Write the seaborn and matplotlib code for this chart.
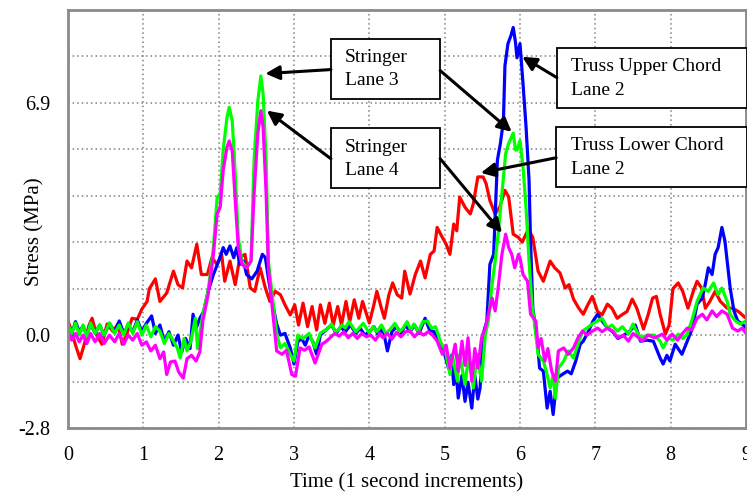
import numpy as np
import pandas as pd
import matplotlib
matplotlib.use("Agg")
import matplotlib.pyplot as plt
import seaborn as sns
from matplotlib.patches import Rectangle

# ---- Stress histories (time in s, stress in MPa) ----
lower_t = [0.00, 0.05, 0.10, 0.16, 0.22, 0.28, 0.32, 0.38, 0.45, 0.52, 0.60, 0.66, 0.72, 0.78, 0.85,
           0.92, 0.98, 1.05, 1.08, 1.16, 1.22, 1.31, 1.40, 1.46, 1.52, 1.58, 1.64, 1.71, 1.77, 1.85,
           1.91, 1.98, 2.04, 2.08, 2.15, 2.22, 2.28, 2.35, 2.42, 2.48, 2.55, 2.62, 2.68, 2.75, 2.82,
           2.88, 2.95, 3.01, 3.06, 3.12, 3.18, 3.24, 3.30, 3.35, 3.41, 3.47, 3.52, 3.58, 3.63, 3.69,
           3.74, 3.80, 3.86, 3.91, 4.00, 4.06, 4.10, 4.16, 4.20, 4.26, 4.31, 4.37, 4.43, 4.47, 4.54,
           4.61, 4.68, 4.74, 4.81, 4.86, 4.90, 4.97, 5.02, 5.07, 5.12, 5.16, 5.20, 5.27, 5.34, 5.38,
           5.44, 5.51, 5.55, 5.60, 5.67, 5.73, 5.80, 5.85, 5.91, 5.98, 6.03, 6.11, 6.17, 6.24, 6.31,
           6.40, 6.46, 6.53, 6.60, 6.65, 6.71, 6.78, 6.84, 6.90, 6.96, 7.03, 7.09, 7.16, 7.22, 7.29,
           7.35, 7.42, 7.49, 7.55, 7.64, 7.70, 7.76, 7.81, 7.86, 7.93, 7.98, 8.03, 8.10, 8.16, 8.23,
           8.30, 8.35, 8.41, 8.46, 8.52, 8.59, 8.66, 8.75, 8.82, 8.90, 9.00]
lower_v = [0.42, 0.10, -0.30, -0.70, -0.24, 0.30, 0.50, 0.00, -0.27, 0.33, 0.10, 0.33, -0.27, 0.03, 0.50,
           0.47, 0.77, 1.00, 1.38, 1.67, 1.00, 1.25, 1.90, 1.50, 1.40, 2.20, 2.00, 2.70, 1.80, 1.80,
           2.30, 2.10, 2.40, 1.60, 2.20, 1.50, 2.30, 2.40, 1.40, 1.30, 2.00, 1.40, 1.00, 1.30, 1.20,
           0.90, 0.60, 0.90, 0.30, 0.95, 0.25, 0.85, 0.15, 0.90, 0.35, 0.95, 0.30, 0.85, 0.30, 1.00,
           0.40, 1.05, 0.50, 1.00, 0.36, 0.90, 1.30, 0.80, 0.50, 1.20, 1.55, 1.20, 1.10, 1.90, 1.22,
           1.80, 2.20, 1.70, 2.40, 2.50, 3.20, 2.90, 2.70, 2.40, 3.30, 3.10, 4.10, 3.80, 3.60, 3.90,
           4.70, 4.70, 4.50, 4.00, 3.60, 3.80, 4.30, 4.10, 3.00, 2.90, 2.76, 3.15, 2.90, 1.90, 1.60,
           2.20, 2.00, 1.85, 1.40, 1.50, 1.07, 0.80, 0.62, 0.90, 1.15, 0.70, 0.60, 0.92, 0.80, 0.50,
           0.60, 0.70, 1.07, 0.80, 0.18, 0.60, 1.10, 1.15, 0.62, 0.03, 0.30, 1.38, 1.55, 1.30, 0.80,
           1.30, 1.60, 1.40, 0.80, 1.00, 1.30, 1.00, 0.80, 0.80, 0.70, 0.50]

upper_t = [0.00, 0.05, 0.10, 0.15, 0.20, 0.25, 0.30, 0.36, 0.42, 0.48, 0.55, 0.62, 0.68, 0.74, 0.80,
           0.86, 0.92, 0.98, 1.04, 1.11, 1.16, 1.22, 1.28, 1.34, 1.40, 1.46, 1.51, 1.56, 1.62, 1.66,
           1.70, 1.75, 1.80, 1.86, 1.93, 2.00, 2.06, 2.10, 2.15, 2.20, 2.24, 2.28, 2.33, 2.37, 2.44,
           2.51, 2.58, 2.62, 2.66, 2.71, 2.77, 2.82, 2.88, 2.95, 3.00, 3.05, 3.10, 3.15, 3.20, 3.25,
           3.30, 3.35, 3.42, 3.50, 3.56, 3.62, 3.68, 3.75, 3.82, 3.88, 3.94, 4.00, 4.06, 4.12, 4.18,
           4.24, 4.30, 4.36, 4.42, 4.48, 4.54, 4.60, 4.66, 4.74, 4.80, 4.86, 4.92, 5.00, 5.05, 5.09,
           5.12, 5.15, 5.18, 5.23, 5.27, 5.31, 5.36, 5.40, 5.44, 5.47, 5.51, 5.56, 5.60, 5.65, 5.70,
           5.74, 5.78, 5.80, 5.84, 5.88, 5.91, 5.94, 5.96, 6.00, 6.04, 6.08, 6.12, 6.14, 6.17, 6.23,
           6.26, 6.31, 6.36, 6.40, 6.44, 6.49, 6.56, 6.63, 6.68, 6.74, 6.80, 6.84, 6.91, 6.97, 7.03,
           7.09, 7.16, 7.23, 7.30, 7.38, 7.46, 7.53, 7.60, 7.68, 7.77, 7.86, 7.90, 7.95, 7.99, 8.06,
           8.15, 8.22, 8.29, 8.35, 8.42, 8.46, 8.50, 8.55, 8.59, 8.63, 8.68, 8.72, 8.76, 8.79, 8.84,
           8.89, 8.95, 9.00]
upper_v = [0.20, 0.05, 0.40, 0.10, 0.27, 0.00, 0.35, 0.05, 0.30, 0.00, 0.35, 0.10, 0.42, 0.05, 0.30,
           0.10, 0.45, 0.10, 0.35, 0.57, 0.05, 0.30, -0.20, 0.10, -0.30, 0.00, -0.50, -0.10, -0.40, 0.62,
           0.20, 0.50, 0.70, 1.30, 1.80, 2.20, 2.60, 2.40, 2.65, 2.30, 2.60, 2.10, 2.20, 1.80, 1.67,
           1.90, 2.40, 2.30, 1.70, 1.00, 0.33, 0.00, 0.05, -0.38, -0.86, -0.20, -0.10, -0.30, 0.00, -0.20,
           -0.57, 0.00, 0.15, 0.30, 0.05, 0.25, 0.10, 0.30, 0.05, 0.20, 0.00, 0.10, 0.25, 0.00, 0.20,
           -0.47, 0.10, 0.25, 0.05, 0.30, 0.10, 0.30, 0.05, 0.50, 0.15, 0.10, -0.20, -0.57, -0.98, -0.60,
           -1.47, -1.00, -1.87, -1.20, -1.97, -1.40, -2.17, -1.20, -1.90, -1.57, 0.03, 0.42, 2.10, 2.40, 5.20,
           5.70, 6.37, 8.00, 8.66, 8.90, 9.14, 8.70, 8.24, 8.66, 7.47, 6.20, 4.60, 2.80, 0.80, -0.18,
           -0.98, -1.07, -2.17, -1.67, -2.36, -1.28, -1.17, -1.07, -1.15, -0.77, -0.27, -0.18, 0.12, 0.42, 0.62,
           0.42, 0.21, 0.10, -0.10, 0.00, 0.12, 0.30, -0.18, -0.15, -0.18, -0.68, -0.86, -0.60, -0.77, -0.27,
           -0.57, -0.18, 0.21, 0.92, 1.10, 1.52, 2.00, 1.80, 2.40, 2.60, 3.20, 2.80, 2.00, 1.40, 0.72,
           0.42, 0.33, 0.21]

lane3_t = [0.00, 0.05, 0.10, 0.15, 0.20, 0.25, 0.30, 0.36, 0.42, 0.48, 0.55, 0.62, 0.68, 0.74, 0.80,
           0.86, 0.92, 0.98, 1.04, 1.10, 1.16, 1.22, 1.28, 1.34, 1.40, 1.45, 1.49, 1.54, 1.58, 1.63,
           1.69, 1.72, 1.79, 1.86, 1.93, 1.98, 2.02, 2.06, 2.11, 2.14, 2.18, 2.22, 2.26, 2.31, 2.37,
           2.43, 2.47, 2.52, 2.56, 2.59, 2.63, 2.66, 2.72, 2.77, 2.82, 2.88, 2.95, 3.00, 3.05, 3.12,
           3.20, 3.28, 3.35, 3.44, 3.50, 3.55, 3.59, 3.64, 3.68, 3.73, 3.77, 3.82, 3.86, 3.92, 4.00,
           4.05, 4.10, 4.16, 4.22, 4.28, 4.34, 4.40, 4.45, 4.50, 4.55, 4.59, 4.65, 4.71, 4.77, 4.83,
           4.88, 4.94, 5.01, 5.07, 5.10, 5.17, 5.20, 5.27, 5.32, 5.38, 5.43, 5.49, 5.54, 5.58, 5.63,
           5.67, 5.71, 5.76, 5.81, 5.85, 5.91, 5.94, 5.96, 6.00, 6.04, 6.08, 6.12, 6.16, 6.19, 6.24,
           6.31, 6.36, 6.40, 6.44, 6.47, 6.51, 6.58, 6.64, 6.71, 6.77, 6.83, 6.89, 6.96, 7.03, 7.09,
           7.16, 7.22, 7.29, 7.36, 7.44, 7.50, 7.55, 7.60, 7.69, 7.78, 7.86, 7.90, 7.97, 8.03, 8.10,
           8.16, 8.22, 8.29, 8.35, 8.39, 8.43, 8.50, 8.57, 8.63, 8.68, 8.75, 8.79, 8.86, 8.92, 9.00]
lane3_v = [0.30, 0.05, 0.36, 0.00, 0.30, -0.05, 0.36, 0.05, 0.30, 0.00, 0.36, 0.05, 0.30, 0.00, 0.36,
           0.05, 0.40, 0.00, 0.30, -0.05, 0.25, 0.12, -0.25, 0.05, -0.18, -0.38, -0.68, -0.10, -0.47, -0.20,
           0.50, -0.40, 0.62, 1.30, 2.60, 4.10, 4.20, 5.50, 6.46, 6.77, 6.37, 4.80, 2.90, 2.20, 2.00,
           2.20, 5.20, 6.96, 7.70, 7.17, 5.20, 2.20, 1.00, 0.03, -0.38, -0.25, -0.57, -0.77, 0.00, -0.10,
           0.05, -0.38, 0.06, 0.18, 0.33, 0.10, 0.15, 0.30, 0.21, 0.40, 0.27, 0.10, 0.20, 0.35, 0.06,
           0.25, 0.10, 0.30, 0.05, 0.18, 0.35, 0.10, 0.21, 0.40, 0.15, 0.33, 0.10, 0.40, 0.42, 0.20,
           0.25, -0.18, -0.47, -1.17, -0.57, -1.37, -0.57, -1.47, -0.60, -1.57, -0.57, -1.37, 0.03, 0.42, 1.52,
           2.20, 3.00, 4.20, 5.40, 5.70, 6.00, 5.50, 5.50, 5.78, 5.00, 3.80, 2.20, 0.90, 0.40, -0.57,
           -0.77, -1.17, -1.57, -1.20, -1.87, -0.98, -0.77, -0.47, -0.68, -0.27, 0.12, 0.21, 0.33, 0.42, 0.50,
           0.21, 0.30, 0.12, 0.25, 0.03, 0.33, 0.10, -0.08, 0.00, 0.00, -0.18, -0.38, -0.08, -0.15, 0.03,
           -0.10, 0.03, 0.50, 1.00, 1.20, 1.40, 1.30, 1.55, 1.20, 1.40, 1.00, 0.62, 0.42, 0.33, 0.42]

lane4_t = [0.00, 0.05, 0.10, 0.15, 0.20, 0.25, 0.30, 0.36, 0.42, 0.48, 0.55, 0.62, 0.68, 0.74, 0.80,
           0.86, 0.92, 0.98, 1.04, 1.10, 1.16, 1.22, 1.27, 1.31, 1.36, 1.42, 1.47, 1.53, 1.58, 1.64,
           1.70, 1.75, 1.79, 1.86, 1.93, 1.98, 2.02, 2.06, 2.11, 2.14, 2.18, 2.22, 2.26, 2.31, 2.37,
           2.43, 2.47, 2.52, 2.56, 2.59, 2.63, 2.66, 2.72, 2.77, 2.84, 2.90, 2.97, 3.02, 3.08, 3.14,
           3.20, 3.28, 3.37, 3.42, 3.47, 3.54, 3.60, 3.66, 3.72, 3.78, 3.84, 3.90, 3.96, 4.02, 4.08,
           4.14, 4.18, 4.24, 4.30, 4.36, 4.42, 4.48, 4.54, 4.60, 4.66, 4.72, 4.78, 4.84, 4.90, 4.97,
           5.02, 5.07, 5.14, 5.18, 5.23, 5.27, 5.31, 5.36, 5.40, 5.44, 5.49, 5.54, 5.58, 5.63, 5.67,
           5.71, 5.76, 5.81, 5.85, 5.89, 5.93, 5.98, 6.00, 6.04, 6.10, 6.14, 6.21, 6.24, 6.28, 6.33,
           6.37, 6.42, 6.47, 6.51, 6.58, 6.64, 6.71, 6.77, 6.83, 6.89, 6.96, 7.03, 7.09, 7.16, 7.23,
           7.30, 7.37, 7.44, 7.50, 7.56, 7.62, 7.70, 7.79, 7.89, 7.95, 8.02, 8.09, 8.15, 8.22, 8.28,
           8.35, 8.42, 8.48, 8.55, 8.61, 8.68, 8.75, 8.82, 8.89, 8.95, 9.00]
lane4_v = [0.10, -0.15, 0.05, -0.20, 0.00, -0.25, 0.05, -0.20, 0.05, -0.25, 0.00, -0.20, 0.05, -0.27, 0.00,
           -0.15, 0.05, -0.30, -0.20, -0.47, -0.30, -0.70, -0.50, -1.17, -0.80, -0.77, -1.10, -1.28, -0.70, -0.60,
           -0.77, -0.50, 0.42, 1.20, 2.40, 3.60, 3.80, 4.90, 5.58, 5.77, 5.47, 4.00, 2.60, 2.10, 2.00,
           2.20, 4.20, 6.00, 6.67, 6.17, 4.20, 2.00, 0.62, -0.47, -0.57, -0.45, -1.17, -1.22, -0.38, -0.45,
           -0.35, -0.83, -0.27, -0.20, -0.10, 0.05, -0.03, 0.10, -0.08, 0.05, -0.10, 0.05, -0.05, 0.00, -0.15,
           0.05, -0.08, 0.05, -0.12, 0.08, -0.05, 0.10, 0.12, -0.05, 0.10, 0.00, 0.10, 0.00, -0.18, -0.57,
           -0.30, -0.98, -0.27, -1.07, -0.18, -0.90, -0.08, -1.37, -0.40, -0.98, -0.08, 0.21, 0.62, 1.10, 0.72,
           1.40, 2.40, 3.00, 2.60, 2.40, 2.00, 2.40, 2.30, 1.80, 1.60, 0.62, 0.42, -0.38, -0.10, -0.77,
           -0.40, -1.07, -1.37, -0.47, -0.38, -0.57, -0.38, -0.08, 0.12, 0.00, 0.12, 0.21, 0.10, 0.21, 0.12,
           -0.08, 0.00, -0.18, 0.05, -0.05, -0.18, 0.00, -0.08, 0.03, -0.15, 0.03, -0.15, 0.03, 0.21, 0.15,
           0.50, 0.62, 0.45, 0.72, 0.55, 0.72, 0.62, 0.21, 0.12, 0.21, 0.05]

series_names = ["Truss Lower Chord Lane 2", "Truss Upper Chord Lane 2",
                "Stringer Lane 3", "Stringer Lane 4"]
series_colors = ["#ff0000", "#0000ff", "#00ff00", "#ff00ff"]

# y gridlines every 1.38 MPa (200 psi); only three of them carry labels
grid_step = 1.38
y_tick_labels = ["-2.8", "", "0.0", "", "", "", "", "6.9", ""]
x_ticks = [0, 1, 2, 3, 4, 5, 6, 7, 8, 9]

# Call-out boxes: (text, left, bottom, right, top, text x, text y)
callouts = [
    ("Stringer\nLane 3", 3.49, 7.02, 4.94, 8.81, 3.68, 7.90),
    ("Stringer\nLane 4", 3.49, 4.375, 4.94, 6.16, 3.68, 5.24),
    ("Truss Upper Chord\nLane 2", 6.49, 6.76, 9.01, 8.54, 6.68, 7.62),
    ("Truss Lower Chord\nLane 2", 6.48, 4.40, 9.01, 6.19, 6.68, 5.27),
]
# Leader arrows: (tail x, tail y, head x, head y)
arrows = [
    (3.49, 7.89, 2.62, 7.77),
    (4.94, 7.86, 5.89, 6.04),
    (3.49, 5.24, 2.64, 6.67),
    (4.94, 5.24, 5.76, 3.04),
    (6.49, 7.65, 6.03, 8.27),
    (6.48, 5.27, 5.48, 4.82),
]

sns.set_theme(style="white")
plt.rcParams["font.family"] = ["Liberation Serif", "DejaVu Serif"]

frames = []
for name, t, v in zip(series_names,
                      [lower_t, upper_t, lane3_t, lane4_t],
                      [lower_v, upper_v, lane3_v, lane4_v]):
    frames.append(pd.DataFrame({"time": t, "stress": v, "series": name}))
df = pd.concat(frames, ignore_index=True)

W, H = 747, 492
fig = plt.figure(figsize=(W / 100, H / 100), dpi=100)
fig.patch.set_facecolor("white")
ax = fig.add_axes([68 / W, 64 / H, 678 / W, 418 / H])

sns.lineplot(data=df, x="time", y="stress", hue="series", hue_order=series_names,
             palette=dict(zip(series_names, series_colors)), estimator=None,
             sort=False, linewidth=2.3, legend=False, ax=ax)

ax.set_xlim(0, 9)
ax.set_ylim(-2 * grid_step, 7 * grid_step)
ax.set_xticks(x_ticks)
ax.set_xticklabels([str(v) for v in x_ticks])
ax.set_yticks(np.arange(-2, 7) * grid_step)
ax.set_yticklabels(y_tick_labels)

ax.grid(True, color="#808080", linestyle=(0, (1, 2)), linewidth=1.1)
for s in ax.spines.values():
    s.set_color("#8a8a8a")
    s.set_linewidth(2)
ax.tick_params(axis="both", direction="out", length=5, width=1.5, color="#8a8a8a",
               labelsize=14.5, labelcolor="black")
ax.tick_params(axis="y", pad=8)
ax.tick_params(axis="x", pad=8)

ax.set_xlabel("Time (1 second increments)", fontsize=15, color="black", labelpad=6)
ax.set_ylabel("Stress (MPa)", fontsize=15, color="black")
ax.yaxis.set_label_coords(-0.034, 0.47)

for text, x0, y0, x1, y1, tx, ty in callouts:
    ax.add_patch(Rectangle((x0, y0), x1 - x0, y1 - y0, facecolor="white",
                           edgecolor="black", linewidth=1.3, zorder=5, clip_on=False))
    ax.text(tx, ty, text, ha="left", va="center", fontsize=14, linespacing=1.5,
            color="black", zorder=6, clip_on=False)

for x0, y0, x1, y1 in arrows:
    ax.annotate("", xy=(x1, y1), xytext=(x0, y0),
                arrowprops=dict(arrowstyle="-|>,head_length=0.7,head_width=0.35",
                                color="black", lw=2.2, shrinkA=0, shrinkB=0),
                zorder=7, annotation_clip=False)

fig.savefig("out.png", dpi=100, facecolor="white")
